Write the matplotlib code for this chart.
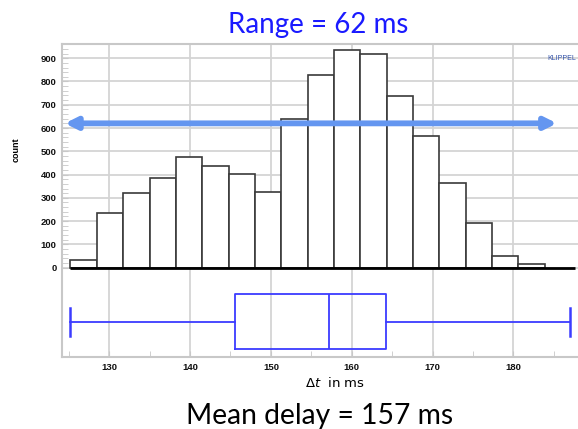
import numpy as np
import matplotlib.pyplot as plt
from matplotlib.ticker import FixedLocator, MultipleLocator

# histogram of delays (counts per bin)
counts = [33, 235, 320, 384, 476, 437, 403, 327, 638, 828,
          937, 919, 737, 566, 363, 193, 50, 14]
bin_start = 125.2
bin_width = 3.26

# box plot statistics (ms)
delay_min = 125.2
delay_q1 = 145.5
delay_median = 157.2
delay_q3 = 164.2
delay_max = 187.0

# range arrow
arrow_from = 124.5
arrow_to = 185.4
arrow_level = 620

x_ticks = [130, 140, 150, 160, 170, 180]
y_ticks = [0, 100, 200, 300, 400, 500, 600, 700, 800, 900]

title_text = "Range = 62 ms"
bottom_text = "Mean delay = 157 ms"

grid_c = '#d4d4d4'

fig = plt.figure(figsize=(5.78, 4.29), dpi=100)
ax = fig.add_axes([62 / 578, 1 - 357 / 429, (578 - 62) / 578, (357 - 44) / 429])

edges = bin_start + bin_width * np.arange(len(counts) + 1)
ax.bar(edges[:-1], counts, width=np.diff(edges), align='edge',
       facecolor='white', edgecolor='#3a3a3a', linewidth=1.2, zorder=3)
ax.plot([bin_start, 187.6], [0, 0], color='black', lw=2, zorder=4,
        solid_capstyle='butt')

# box plot below the histogram
stats = [dict(whislo=delay_min, q1=delay_q1, med=delay_median,
              q3=delay_q3, whishi=delay_max)]
blue = '#3c3cff'
ax.bxp(stats, positions=[-233], widths=236, orientation='horizontal',
       showfliers=False, manage_ticks=False, capwidths=120,
       boxprops=dict(color=blue, lw=1.3),
       whiskerprops=dict(color=blue, lw=1.3),
       capprops=dict(color=blue, lw=1.8),
       medianprops=dict(color=blue, lw=1.3), zorder=3)

ax.annotate('', xy=(arrow_to, arrow_level), xytext=(arrow_from, arrow_level),
            arrowprops=dict(arrowstyle='<|-|>', color='#6496f0', lw=4.2,
                            mutation_scale=17, shrinkA=0, shrinkB=0),
            zorder=5)

ax.set_xlim(124.15, 188.0)
ax.set_ylim(-384, 961)

ax.xaxis.set_major_locator(FixedLocator(x_ticks))
ax.xaxis.set_minor_locator(MultipleLocator(5))
ax.yaxis.set_major_locator(FixedLocator(y_ticks))
ax.yaxis.set_minor_locator(FixedLocator(np.arange(0, 961, 20)))
ax.tick_params(axis='both', which='major', labelsize=6.8, colors='#c8c8c8',
               labelcolor='#111111', length=4, direction='in', pad=4)
ax.tick_params(axis='both', which='minor', colors='#c8c8c8', length=4,
               direction='in')
for lab in ax.get_xticklabels() + ax.get_yticklabels():
    lab.set_family('Liberation Sans')
    lab.set_fontweight('bold')

ax.grid(True, which='major', color=grid_c, lw=1.3, zorder=0)
ax.set_axisbelow(True)
for side in ['left', 'bottom', 'top']:
    ax.spines[side].set_color('#c8c8c8')
    ax.spines[side].set_linewidth(1.5)
ax.spines['right'].set_visible(False)

fig.text(16 / 578, 1 - 150 / 429, 'count', rotation=90, fontsize=6.5,
         family='Liberation Sans', fontweight='bold', ha='center', va='center')
fig.text(576 / 578, 1 - 58 / 429, 'KLIPPEL', fontsize=5, color='#2f4fa8',
         family='Liberation Sans', ha='right', va='center')
fig.text(335 / 578, 1 - 383 / 429, r'$\Delta t$  in ms', fontsize=9.5,
         ha='center', va='center')

fig.text(318 / 578, 1 - 33 / 429, title_text, fontsize=20, color='#1a1aff',
         family='Lato', ha='center', va='baseline')
fig.text(320 / 578, 1 - 424 / 429, bottom_text, fontsize=20.3, color='black',
         family='Lato', ha='center', va='baseline')

fig.savefig('out.png', dpi=100)
